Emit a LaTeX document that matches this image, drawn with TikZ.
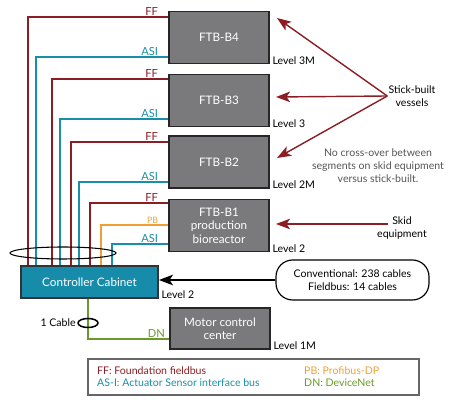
\documentclass[tikz,border=0pt]{standalone}
\usepackage{fontspec}
\setmainfont{Lato}
\usepackage{tikz}
\usetikzlibrary{arrows.meta, positioning}
\usepackage{xcolor}
\definecolor{ffRed}{RGB}{139, 30, 36}
\definecolor{asiTeal}{RGB}{24, 142, 168}
\definecolor{pbOrange}{RGB}{240, 160, 50}
\definecolor{dnGreen}{RGB}{106, 153, 44}
\definecolor{boxGray}{RGB}{122, 122, 124}
\definecolor{cabinetTeal}{RGB}{22, 140, 170}
\definecolor{noteGray}{RGB}{85, 85, 85}
\colorlet{pointerRed}{ffRed}
\colorlet{legendEdge}{black!60}
\tikzset{
    ftb/.style={draw=black!85, line width=1.6pt, fill=boxGray, text=white, align=center,
        minimum width=3cm, minimum height=1.56cm, font=\fontsize{10}{11.5}\selectfont},
    cabinet/.style={draw=black!80, line width=1.6pt, fill=cabinetTeal, text=white,
        minimum width=4.11cm, minimum height=0.96cm, font=\fontsize{10}{12}\selectfont},
    cable/.style={line width=1.2pt},
    ffline/.style={cable, draw=ffRed},
    asiline/.style={cable, draw=asiTeal},
    pbline/.style={cable, draw=pbOrange},
    dnline/.style={cable, draw=dnGreen},
    buslabel/.style={anchor=south east, inner sep=1pt, xshift=-7pt, font=\fontsize{9.5}{11}\selectfont},
    level/.style={anchor=base west, inner sep=0pt, xshift=2pt},
    pointer/.style={draw=pointerRed, line width=1.2pt, -{Stealth[length=12pt, width=9pt, inset=3pt]}},
    bubble/.style={draw, line width=1pt, rounded corners=0.5cm, align=center,
        minimum width=4.59cm, minimum height=1.2cm}
}

\begin{document}
\begin{tikzpicture}[x=0.03cm, y=-0.03cm, font=\fontsize{9}{11}\selectfont]
    \useasboundingbox (0,0) rectangle (467,405);

    % Field termination boxes and cabinets
    \node[ftb] (b4) at (219,37.5) {FTB-B4};
    \node[ftb] (b3) at (219,100.5) {FTB-B3};
    \node[ftb] (b2) at (219,162) {FTB-B2};
    \node[ftb, font=\fontsize{10}{11.5}\selectfont] (b1) at (219,225.5) {FTB-B1\\production\\bioreactor};
    \node[cabinet] (cab) at (89.5,282) {Controller Cabinet};
    \node[ftb, minimum height=1.23cm] (motor) at (220,328.5) {Motor control\\center};

    % Levels
    \node[level] (lvl4) at (b4.south east) {Level 3M};
    \node[level] (lvl3) at (b3.south east) {Level 3};
    \node[level] (lvl2m) at (b2.south east) {Level 2M};
    \node[level] (lvl1) at (b1.south east) {Level 2};
    \node[level] (lvlcab) at (cab.south east) {Level 2};
    \node[level] (lvlmotor) at (motor.south east) {Level 1M};

    % Cables from the boxes down to the cabinet
    \draw[ffline] (b4.west |- 0,17) node[buslabel, text=ffRed] {FF} -| (28,0 |- cab.north);
    \draw[asiline] (b4.west |- 0,57) node[buslabel, text=asiTeal] {ASI} -| (36,0 |- cab.north);
    \draw[ffline] (b3.west |- 0,79) node[buslabel, text=ffRed] {FF} -| (52,0 |- cab.north);
    \draw[asiline] (b3.west |- 0,119) node[buslabel, text=asiTeal] {ASI} -| (60,0 |- cab.north);
    \draw[ffline] (b2.west |- 0,142) node[buslabel, text=ffRed] {FF} -| (71,0 |- cab.north);
    \draw[asiline] (b2.west |- 0,182) node[buslabel, text=asiTeal] {ASI} -| (79,0 |- cab.north);
    \draw[ffline] (b1.west |- 0,203) node[buslabel, text=ffRed] {FF} -| (90,0 |- cab.north);
    \draw[pbline] (b1.west |- 0,225) node[buslabel, text=pbOrange, font=\fontsize{7.5}{9}\selectfont] {PB} -| (101,0 |- cab.north);
    \draw[asiline] (b1.west |- 0,244) node[buslabel, text=asiTeal] {ASI} -| (112,0 |- cab.north);
    \draw[line width=0.9pt] (63,253) ellipse [x radius=53, y radius=6];

    % DeviceNet to the motor control center
    \draw[dnline] (88,0 |- cab.south) |- (motor.west |- 0,339) node[buslabel, xshift=5pt, text=dnGreen] {DN};
    \draw[line width=1.3pt] (88,323) ellipse [x radius=10, y radius=4.5];
    \node[anchor=east, inner sep=1pt] (onecable) at (77,323) {1 Cable};

    % Cable count
    \node[bubble] (bubble) at (352.5,280) {Conventional: 238 cables\\Fieldbus: 14 cables};
    \draw[line width=1.2pt, -{Stealth[length=12pt, width=9pt, inset=3pt]}] (bubble.west) -- (cab.east |- bubble.west);

    % Stick-built and skid pointers
    \node[align=center, inner sep=1pt] (stick) at (412,96) {Stick-built\\vessels};
    \coordinate (tipB4) at (277,18);
    \coordinate (tipB3) at (276,97);
    \coordinate (tipB2) at (277,158);
    \draw[pointer] (stick.west) -- (tipB4);
    \draw[pointer] (stick.west) -- (tipB3);
    \draw[pointer] (stick.west) -- (tipB2);
    \node[align=center, text=noteGray] (note) at (378,166) {No cross-over between\\segments on skid equipment\\versus stick-built.};
    \node[align=center, inner sep=1pt] (skid) at (402,228) {Skid\\equipment};
    \coordinate (tipB1) at (276,224);
    \draw[pointer] ([shift={(12,-4)}]skid.west) -- (tipB1);

    % Legend
    \draw[legendEdge, line width=1.4pt] (88,359) rectangle (419,395);
    \node[anchor=west, inner sep=0pt, text=ffRed] (legFF) at (97,371) {FF: Foundation fieldbus};
    \node[anchor=west, inner sep=0pt, text=asiTeal] (legASI) at (97,383) {AS-I: Actuator Sensor interface bus};
    \node[anchor=west, inner sep=0pt, text=pbOrange] (legPB) at (304,371) {PB: Profibus-DP};
    \node[anchor=west, inner sep=0pt, text=dnGreen] (legDN) at (304,383) {DN: DeviceNet};
\end{tikzpicture}
\end{document}
